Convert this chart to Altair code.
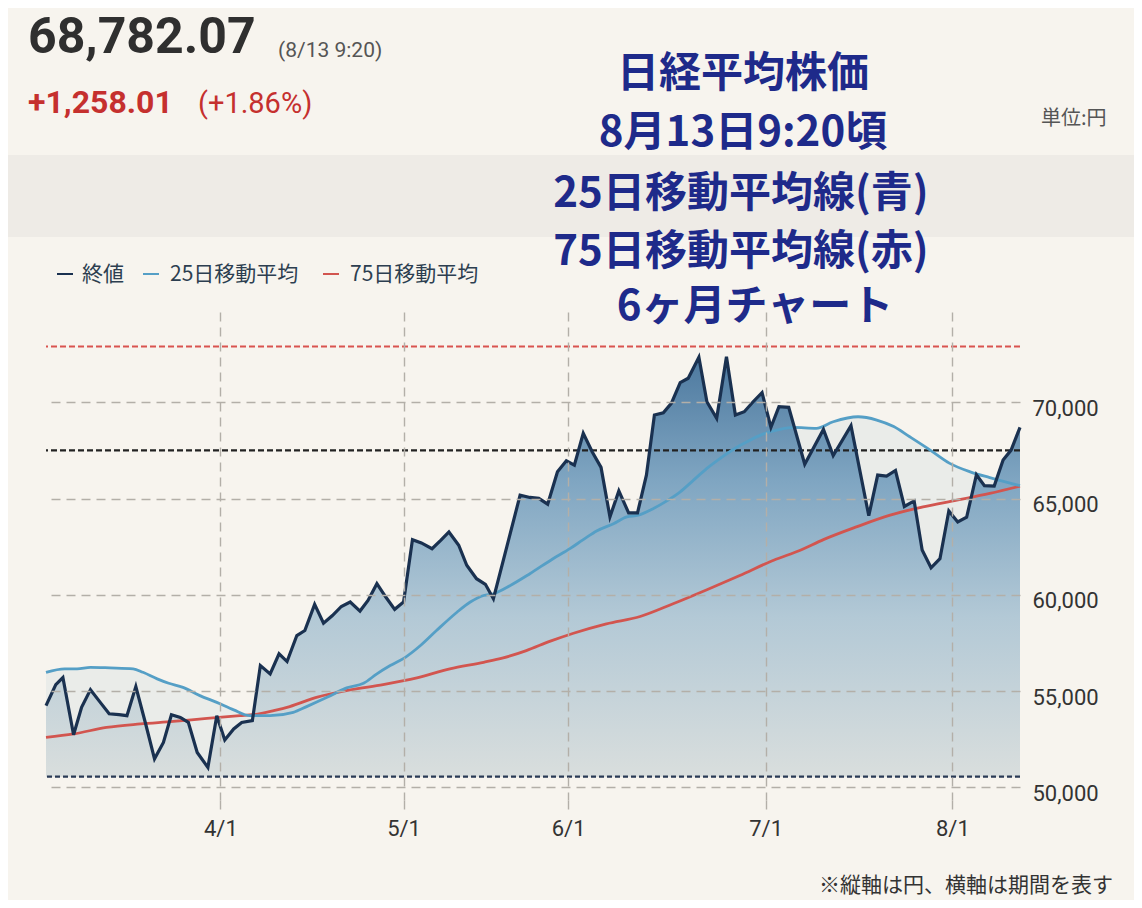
import altair as alt
import pandas as pd

# ---------------- data ----------------
close_day = [0, 1.1, 1.9, 3.1, 4.0, 5.0, 6.1, 7.1, 8.2, 9.1, 10.1, 11.2, 12.2, 13.2, 14.1, 15.1,
             16.0, 17.0, 18.2, 19.2, 20.1, 21.1, 22.0, 23.2, 24.1, 25.2, 26.2, 27.1, 28.2, 29.1,
             30.2, 31.2, 32.2, 33.2, 34.2, 35.3, 36.2, 37.2, 38.2, 39.2, 40.2, 41.2, 42.2, 43.4,
             44.4, 45.3, 46.4, 47.3, 48.4, 49.4, 50.3, 53.3, 54.4, 55.4, 56.4, 57.5, 58.5, 59.4,
             60.4, 61.4, 62.4, 63.4, 64.4, 65.5, 66.5, 67.5, 68.4, 69.4, 70.3, 71.3, 72.2, 73.4,
             74.3, 75.4, 76.5, 77.5, 78.5, 79.5, 80.5, 81.5, 82.4, 83.5, 85.3, 87.4, 88.5, 90.5,
             92.5, 93.5, 94.5, 95.5, 96.5, 97.6, 98.5, 99.5, 100.5, 101.5, 102.5, 103.5, 104.6,
             105.5, 106.6, 107.6, 108.5, 109.5]
close_val = [54250, 55340, 55710, 52740, 54160, 55080, 54420, 53830, 53780, 53730, 55240, 53310,
             51490, 52340, 53780, 53640, 53380, 51820, 51040, 53730, 52470, 53040, 53380, 53470,
             56330, 55900, 56940, 56540, 57890, 58150, 59510, 58530, 58930, 59400, 59630, 59160,
             59710, 60580, 59890, 59250, 59630, 62870, 62700, 62400, 62840, 63270, 62580, 61540,
             60840, 60550, 59800, 65180, 65060, 65010, 64710, 66390, 66960, 66740, 68390, 67430,
             66620, 64050, 65400, 64260, 64260, 66220, 69340, 69460, 69950, 71020, 71250, 72340,
             70030, 69170, 72370, 69340, 69510, 70030, 70500, 68700, 69770, 69740, 66790, 68590,
             67230, 68790, 64110, 66220, 66170, 66460, 64590, 64880, 62330, 61410, 61880, 64360,
             63790, 64030, 66240, 65670, 65650, 67000, 67520, 68700]

ma25_day = [0, 2.1, 3.5, 5.0, 7.2, 9.8, 10.9, 12.5, 13.8, 15.4, 17.3, 19.2, 21.1, 22.9, 25.2,
            27.8, 29.3, 31.6, 33.8, 35.7, 37.2, 38.7, 40.4, 42.1, 43.9, 46.2, 47.7, 49.2, 50.3,
            52.2, 54.4, 57.0, 58.9, 60.4, 61.9, 63.8, 65.3, 66.6, 68.3, 69.8, 71.3, 72.8, 74.3,
            75.8, 77.3, 78.8, 80.6, 82.5, 84.0, 86.6, 88.5, 91.3, 93.4, 95.3, 97.1, 99.4, 101.6,
            103.9, 106.1, 109.5]
ma25_val = [55980, 56160, 56160, 56240, 56210, 56160, 55980, 55640, 55410, 55200, 54770, 54420,
            54030, 53730, 53730, 53900, 54200, 54680, 55170, 55410, 55900, 56330, 56760, 57370,
            58150, 59100, 59630, 59970, 60060, 60490, 61100, 61880, 62400, 62870, 63320, 63700,
            64050, 64140, 64490, 64880, 65350, 65960, 66570, 67090, 67560, 67950, 68350, 68600,
            68700, 68650, 68990, 69250, 69080, 68740, 68210, 67520, 66830, 66390, 66090, 65670]

ma75_day = [0, 3.1, 6.8, 10.6, 14.3, 18.1, 21.8, 23.3, 25.6, 27.4, 30.4, 34.2, 37.9, 41.7, 45.4,
            49.2, 51.4, 54.0, 56.7, 59.3, 63.0, 66.8, 70.5, 74.3, 78.0, 81.8, 84.8, 87.4, 91.1,
            94.9, 98.6, 102.4, 106.1, 109.5]
ma75_val = [52600, 52780, 53120, 53300, 53430, 53590, 53730, 53780, 53990, 54200, 54680, 55070,
            55340, 55690, 56160, 56500, 56730, 57110, 57600, 58010, 58500, 58880, 59540, 60270,
            61010, 61800, 62320, 62870, 63530, 64140, 64570, 64920, 65270, 65650]

tick_day = [19.6, 40.2, 58.7, 80.9, 101.9]
tick_label = ["4/1", "5/1", "6/1", "7/1", "8/1"]
y_ticks = [50000, 55000, 60000, 65000, 70000]
ref_high = 72900
ref_mid = 67500
ref_low = 50560

title_lines = ["日経平均株価", "8月13日9:20頃", "25日移動平均線(青)", "75日移動平均線(赤)", "6ヶ月チャート"]
legend_names = ["終値", "25日移動平均", "75日移動平均"]

# ---------------- layout ----------------
OX, OY = 46, 312          # page position of plot origin
W, H = 974, 488
XMAX = 109.5
Y_DOMAIN = [49350, 74690]
BG = "#f7f4ee"
GRID = "#b3afa8"

close_df = pd.DataFrame({"day": close_day, "value": close_val})
ma25_df = pd.DataFrame({"day": ma25_day, "value": ma25_val})
ma75_df = pd.DataFrame({"day": ma75_day, "value": ma75_val})
one = pd.DataFrame({"a": [0]})

label_expr = "".join(
    f"abs(datum.value - {d}) < 0.01 ? '{l}' : " for d, l in zip(tick_day, tick_label)
) + "''"

xscale = alt.Scale(domain=[0, XMAX], nice=False, zero=False)
yscale = alt.Scale(domain=Y_DOMAIN, nice=False, zero=False)

x_axis = alt.Axis(values=tick_day, labelExpr=label_expr, grid=True, gridDash=[9, 6],
                  gridColor=GRID, gridWidth=1.4, ticks=True, tickDash=[9, 6], tickColor=GRID,
                  tickWidth=1.4, tickSize=12, domain=False, labelFont="Roboto", labelFontSize=22,
                  labelColor="#333333", labelPadding=6, title=None, zindex=1)
y_axis = alt.Axis(orient="right", values=y_ticks, labelExpr="format(datum.value, ',')",
                  grid=True, gridDash=[9, 6],
                  gridColor=GRID, gridWidth=1.4, ticks=False, domain=False, labelFont="Roboto",
                  labelFontSize=22, labelColor="#333333", labelPadding=12, labelOffset=6,
                  title=None, zindex=1)

X = alt.X("day:Q", scale=xscale, axis=x_axis)
Y = alt.Y("value:Q", scale=yscale, axis=y_axis)

band = alt.Chart(one).mark_rect(color="#eeebe6").encode(
    x=alt.value(-38), x2=alt.value(1142 - OX), y=alt.value(155 - OY), y2=alt.value(237 - OY))

ma25_area = alt.Chart(ma25_df).mark_area(color="#dde3e3", opacity=0.5, interpolate="monotone").encode(
    x=X, y=Y, y2=alt.datum(ref_low))

grad = alt.Gradient(gradient="linear",
                    stops=[alt.GradientStop(color="#4d799f", offset=0),
                           alt.GradientStop(color="#80a6c2", offset=0.3),
                           alt.GradientStop(color="#b3c9d6", offset=0.62),
                           alt.GradientStop(color="#d9dedd", offset=1)],
                    x1=0, x2=0, y1=0, y2=1)

close_area = alt.Chart(close_df).mark_area(color=grad).encode(
    x=X, y=Y, y2=alt.datum(ref_low))


def ref_rule(v, color, dash, w):
    return alt.Chart(pd.DataFrame({"value": [v]})).mark_rule(
        color=color, strokeDash=dash, strokeWidth=w).encode(y=Y)


r_high = ref_rule(ref_high, "#d9534f", [6, 3], 2)
r_mid = ref_rule(ref_mid, "#222222", [6, 3], 2.2)
r_low = ref_rule(ref_low, "#2a3a55", [5, 3], 2.2)

ma75_line = alt.Chart(ma75_df).mark_line(color="#d2554f", strokeWidth=2.8, interpolate="monotone").encode(
    x=X, y=Y)
ma25_line = alt.Chart(ma25_df).mark_line(color="#559fc6", strokeWidth=2.8, interpolate="monotone").encode(
    x=X, y=Y)
close_line = alt.Chart(close_df).mark_line(color="#1a3150", strokeWidth=3.2, strokeJoin="miter").encode(
    x=X, y=Y)


def txt(s, px, py, size, color, weight="normal", font="Roboto", align="left"):
    return alt.Chart(one).mark_text(align=align, baseline="alphabetic", fontSize=size, font=font,
                                    fontWeight=weight, color=color).encode(
        x=alt.value(px - OX), y=alt.value(py - OY), text=alt.value(s))


def seg(x1, x2, py, color):
    return alt.Chart(one).mark_rule(color=color, strokeWidth=2).encode(
        x=alt.value(x1 - OX), x2=alt.value(x2 - OX), y=alt.value(py - OY))


JP = "Noto Sans CJK JP"
TITLE_C = "#1e2a8a"
texts = [
    txt("68,782.07", 28, 53, 50, "#2f2f2f", "bold"),
    txt("(8/13 9:20)", 278, 57, 21, "#555555"),
    txt("+1,258.01", 28, 113, 32, "#c5302e", "bold"),
    txt("(+1.86%)", 198, 113, 29, "#c5302e"),
    txt(title_lines[0], 743, 87, 42, TITLE_C, "bold", JP, "center"),
    txt(title_lines[1], 743, 146, 42, TITLE_C, "bold", JP, "center"),
    txt(title_lines[2], 741, 207, 42, TITLE_C, "bold", JP, "center"),
    txt(title_lines[3], 741, 265, 42, TITLE_C, "bold", JP, "center"),
    txt(title_lines[4], 755, 320, 42, TITLE_C, "bold", JP, "center"),
    txt("単位:円", 1041, 125, 20, "#555555", "normal", JP),
    txt(legend_names[0], 82, 281, 21, "#2c3e50", "normal", JP),
    txt(legend_names[1], 170, 281, 21, "#2c3e50", "normal", JP),
    txt(legend_names[2], 350, 281, 21, "#2c3e50", "normal", JP),
    txt("※縦軸は円、横軸は期間を表す", 1113, 892, 21, "#333333", "normal", JP, "right"),
    seg(57, 73, 274, "#1a3150"),
    seg(143, 159, 274, "#559fc6"),
    seg(323, 339, 274, "#d2554f"),
]

chart = alt.layer(
    band, ma25_area, close_area, r_high, r_mid, r_low, ma75_line, ma25_line, close_line, *texts
).properties(
    width=W, height=H,
    autosize=alt.AutoSizeParams(type="none"),
    padding={"left": OX - 8, "top": OY - 8, "right": 114, "bottom": 100},
    background=BG,
).configure_view(stroke=None)

chart.save("out.html", embed_options={"renderer": "svg", "actions": False})
